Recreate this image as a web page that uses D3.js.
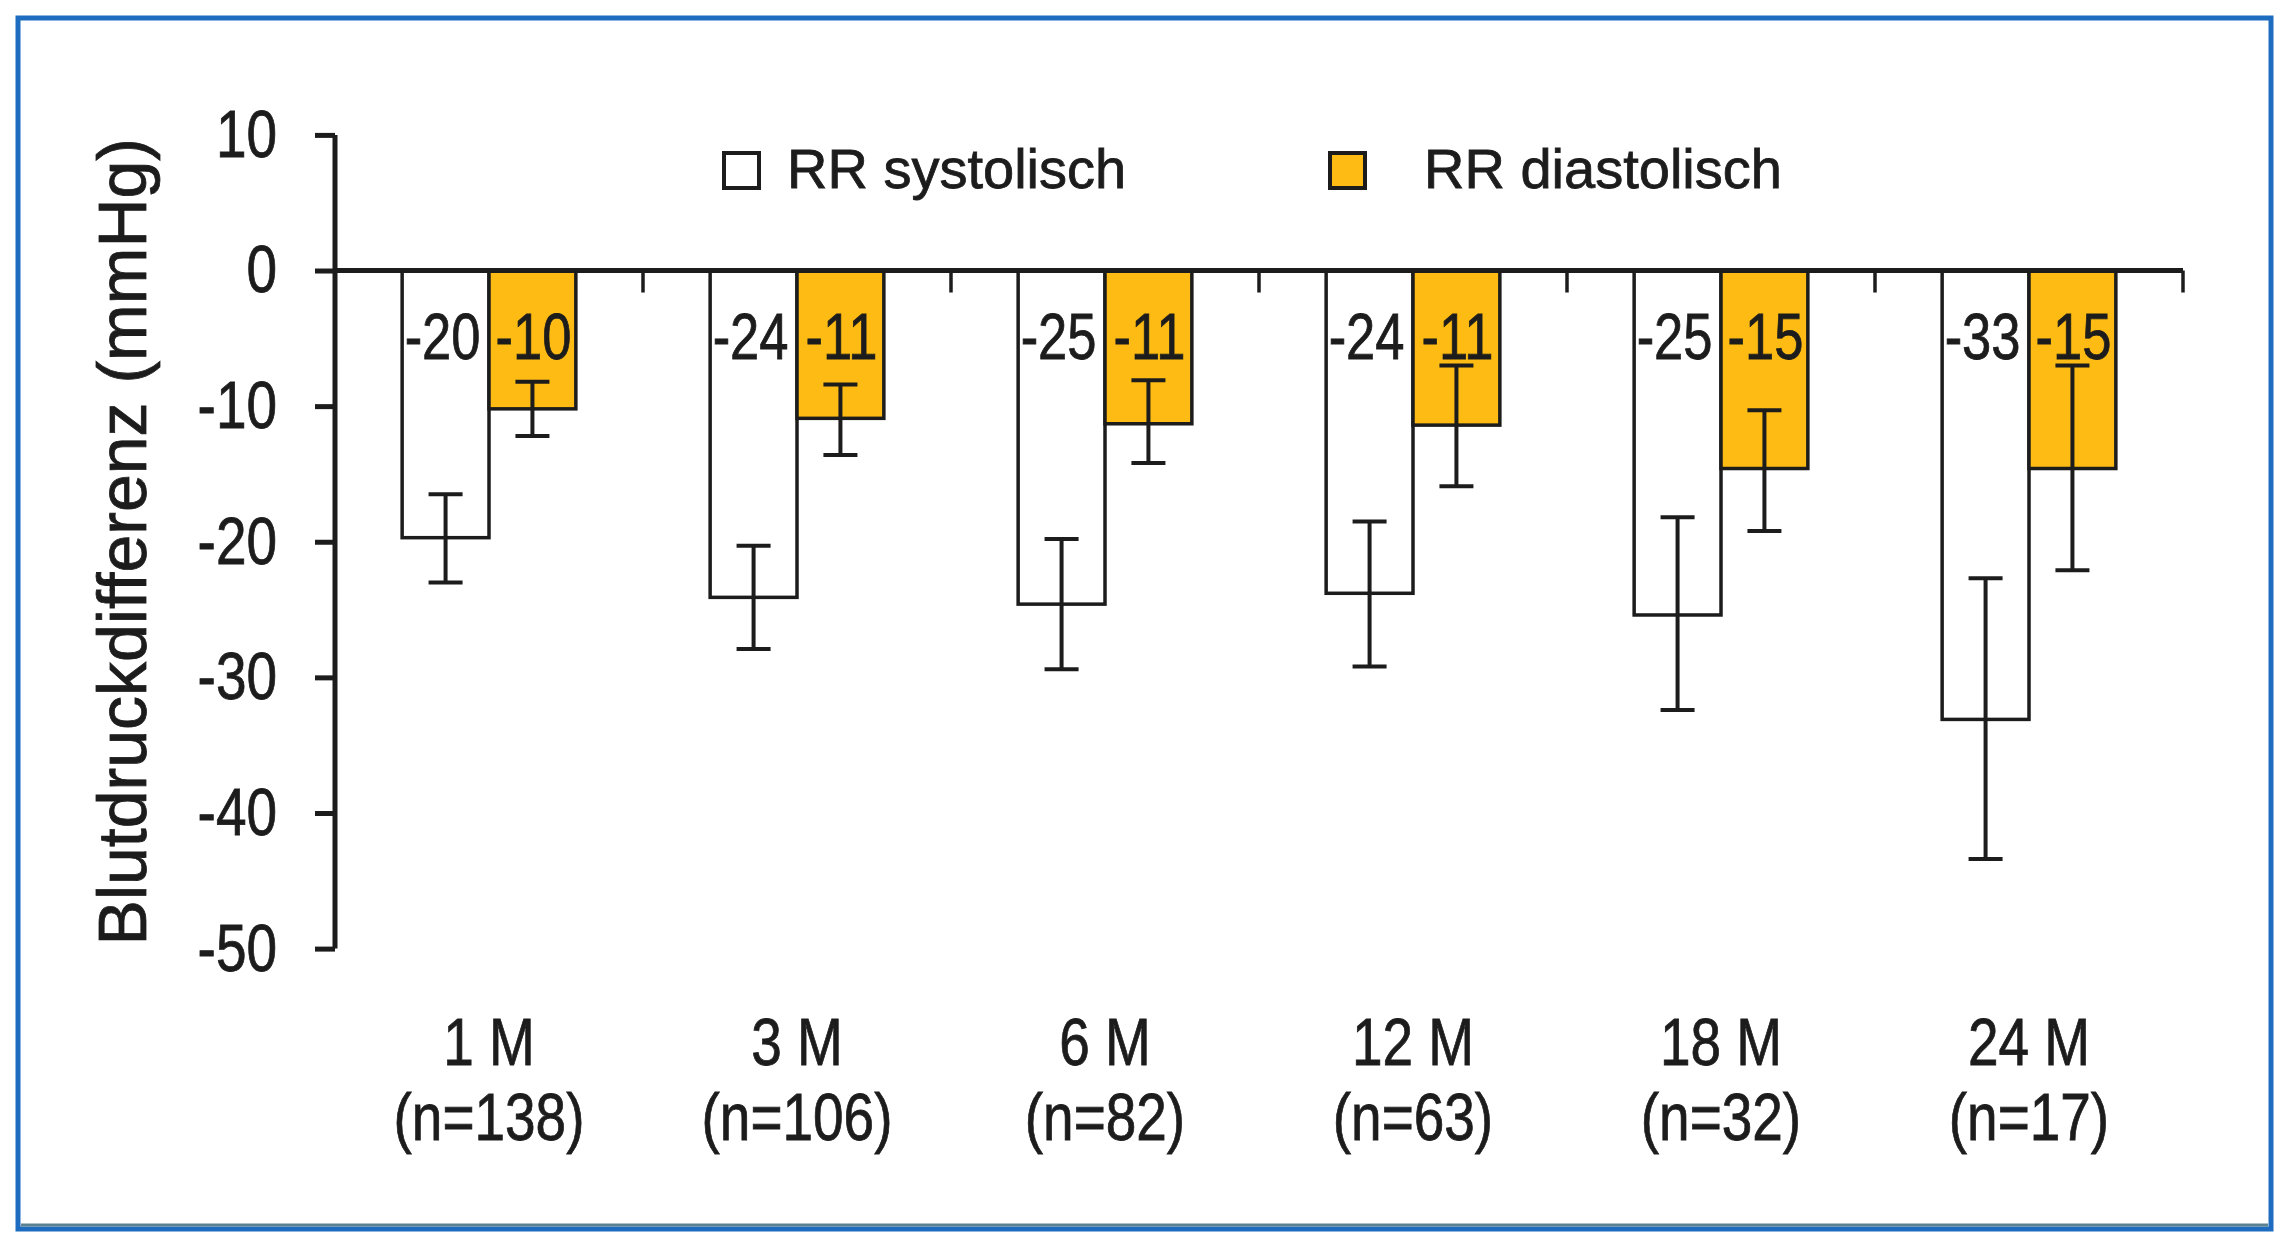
<!DOCTYPE html>
<html>
<head>
<meta charset="utf-8">
<script src="https://cdn.jsdelivr.net/npm/d3@7"></script>
<style>
  html, body { margin: 0; padding: 0; background: #ffffff; }
  svg { display: block; }
</style>
</head>
<body>
<svg id="chart" width="2292" height="1251"></svg>
<script>
// ---- data ----
const categories = ["1 M", "3 M", "6 M", "12 M", "18 M", "24 M"];
const nLabels = ["(n=138)", "(n=106)", "(n=82)", "(n=63)", "(n=32)", "(n=17)"];
const seriesNames = ["RR systolisch", "RR diastolisch"];

const systolic      = [-19.7, -24.1, -24.6, -23.8, -25.4, -33.1];
const systolicHigh  = [-16.5, -20.3, -19.8, -18.5, -18.2, -22.7];
const systolicLow   = [-23.0, -27.9, -29.4, -29.2, -32.4, -43.4];
const systolicLabel = ["-20", "-24", "-25", "-24", "-25", "-33"];

const diastolic      = [-10.2, -10.9, -11.3, -11.4, -14.6, -14.6];
const diastolicHigh  = [-8.2, -8.4, -8.1, -7.0, -10.3, -7.0];
const diastolicLow   = [-12.2, -13.6, -14.2, -15.9, -19.2, -22.1];
const diastolicLabel = ["-10", "-11", "-11", "-11", "-15", "-15"];

const yTicks = [10, 0, -10, -20, -30, -40, -50];
const yTitle = "Blutdruckdifferenz (mmHg)";

// ---- setup ----
const svg = d3.select("#chart");
const W = 2292, H = 1251;
const orange = "#FDBB13";
const ink = "#1c1c1c";

// narrow font detection
function fontAvailable(name) {
  const c = document.createElement("canvas").getContext("2d");
  c.font = "67px serif";
  const a = c.measureText("0123456789 n=()M").width;
  c.font = "67px '" + name + "', serif";
  const b = c.measureText("0123456789 n=()M").width;
  return Math.abs(a - b) > 0.5;
}
const hasNarrow = fontAvailable("Liberation Sans Narrow");
const narrowFont = hasNarrow ? "'Liberation Sans Narrow', 'Arial Narrow', sans-serif" : "'Liberation Sans', Arial, sans-serif";
const regularFont = "'Liberation Sans', Arial, Helvetica, sans-serif";
function narrowize(sel) {
  if (hasNarrow) return;
  sel.each(function () {
    const len = this.getComputedTextLength();
    d3.select(this).attr("textLength", len * 0.82).attr("lengthAdjust", "spacingAndGlyphs");
  });
}
function heavy(sel, w) {
  sel.attr("stroke", ink).attr("stroke-width", w).attr("paint-order", "stroke");
}

svg.append("rect").attr("width", W).attr("height", H).attr("fill", "#ffffff");

// frame
svg.append("rect")
  .attr("x", 18).attr("y", 18).attr("width", 2253).attr("height", 1211)
  .attr("fill", "none").attr("stroke", "#1e6cc0").attr("stroke-width", 5);
svg.append("line")
  .attr("x1", 21).attr("x2", 2268).attr("y1", 1225).attr("y2", 1225)
  .attr("stroke", "#5a8190").attr("stroke-width", 3);

// scales
const plotLeft = 335, plotRight = 2183;
const y = d3.scaleLinear().domain([-50, 10]).range([948.6, 134.9]);
const x = d3.scaleBand().domain(categories).range([plotLeft, plotRight]).padding(0);
const bw = x.bandwidth();
const barW = bw * 0.282;
const xs = d3.scaleBand().domain(["sys", "dia"])
  .range([bw / 2 - barW, bw / 2 + barW]).padding(0);

const rows = categories.map((c, i) => ({
  cat: c, n: nLabels[i],
  bars: [
    { key: "sys", v: systolic[i], hi: systolicHigh[i], lo: systolicLow[i], label: systolicLabel[i], fill: "#ffffff", dx: -3 },
    { key: "dia", v: diastolic[i], hi: diastolicHigh[i], lo: diastolicLow[i], label: diastolicLabel[i], fill: orange, dx: 1 }
  ]
}));

const g = svg.append("g");

// bars
const groups = g.selectAll("g.grp").data(rows).join("g")
  .attr("class", "grp")
  .attr("transform", d => `translate(${x(d.cat)},0)`);

groups.selectAll("rect.bar").data(d => d.bars).join("rect")
  .attr("class", "bar")
  .attr("x", d => xs(d.key))
  .attr("y", d => y(0))
  .attr("width", xs.bandwidth())
  .attr("height", d => y(d.v) - y(0))
  .attr("fill", d => d.fill)
  .attr("stroke", ink)
  .attr("stroke-width", 3.5);

// error bars
const capW = 34;
const eb = groups.selectAll("g.err").data(d => d.bars).join("g").attr("class", "err")
  .attr("stroke", ink).attr("stroke-width", 4);
eb.append("line")
  .attr("x1", d => xs(d.key) + xs.bandwidth() / 2)
  .attr("x2", d => xs(d.key) + xs.bandwidth() / 2)
  .attr("y1", d => y(d.hi)).attr("y2", d => y(d.lo));
eb.append("line")
  .attr("x1", d => xs(d.key) + xs.bandwidth() / 2 - capW / 2)
  .attr("x2", d => xs(d.key) + xs.bandwidth() / 2 + capW / 2)
  .attr("y1", d => y(d.hi)).attr("y2", d => y(d.hi));
eb.append("line")
  .attr("x1", d => xs(d.key) + xs.bandwidth() / 2 - capW / 2)
  .attr("x2", d => xs(d.key) + xs.bandwidth() / 2 + capW / 2)
  .attr("y1", d => y(d.lo)).attr("y2", d => y(d.lo));

// value labels
const vl = groups.selectAll("text.val").data(d => d.bars).join("text")
  .attr("class", "val")
  .attr("x", d => xs(d.key) + xs.bandwidth() / 2 + d.dx)
  .attr("y", y(-4.85))
  .attr("dy", "0.36em")
  .attr("text-anchor", "middle")
  .attr("font-family", narrowFont)
  .attr("font-size", 64)
  .attr("fill", ink)
  .text(d => d.label);
heavy(vl, 0.8);
narrowize(vl);

// x axis (zero line) with category separators
const xAxis = d3.axisBottom(x).tickSize(0).tickFormat("");
const xg = svg.append("g").attr("transform", `translate(0,${y(0)})`).call(xAxis);
xg.select(".domain").attr("stroke", ink).attr("stroke-width", 5)
  .attr("d", `M${plotLeft},0H${plotRight}`);
xg.selectAll(".tick").remove();
xg.selectAll("line.sep").data(categories).join("line")
  .attr("class", "sep")
  .attr("x1", d => x(d) + bw).attr("x2", d => x(d) + bw)
  .attr("y1", 0).attr("y2", 22)
  .attr("stroke", ink).attr("stroke-width", 3.5);

// category labels
const cl = svg.append("g").selectAll("g").data(rows).join("g");
const cl1 = cl.append("text")
  .attr("x", d => x(d.cat) + bw / 2).attr("y", 1065)
  .attr("text-anchor", "middle").attr("font-family", narrowFont)
  .attr("font-size", 67).attr("fill", ink).text(d => d.cat);
const cl2 = cl.append("text")
  .attr("x", d => x(d.cat) + bw / 2).attr("y", 1140)
  .attr("text-anchor", "middle").attr("font-family", narrowFont)
  .attr("font-size", 67).attr("fill", ink).text(d => d.n);
heavy(cl1, 0.8); heavy(cl2, 0.8);
narrowize(cl1); narrowize(cl2);

// y axis
const yAxis = d3.axisLeft(y).tickValues(yTicks).tickSize(20).tickPadding(38)
  .tickFormat(d3.format("d"));
const yg = svg.append("g").attr("transform", `translate(${plotLeft},0)`).call(yAxis);
yg.select(".domain").attr("stroke", ink).attr("stroke-width", 5)
  .attr("d", `M0,${y(10)}V${y(-50)}`);
yg.selectAll(".tick line").attr("stroke", ink).attr("stroke-width", 5);
const yl = yg.selectAll(".tick text")
  .attr("font-family", narrowFont).attr("font-size", 67).attr("fill", ink)
  .text(d => String(d).replace("\u2212", "-"));
heavy(yl, 0.8);
narrowize(yl);

// y title
const yt = svg.append("text")
  .attr("transform", `translate(146,${(y(10) + y(-50)) / 2}) rotate(-90)`)
  .attr("text-anchor", "middle")
  .attr("font-family", regularFont)
  .attr("font-size", 68)
  .attr("fill", ink)
  .text(yTitle);
heavy(yt, 0.8);

// legend
const legendItems = [
  { name: seriesNames[0], fill: "#ffffff", bx: 724, tx: 787 },
  { name: seriesNames[1], fill: orange, bx: 1330, tx: 1424 }
];
const lg = svg.append("g").selectAll("g").data(legendItems).join("g");
lg.append("rect")
  .attr("x", d => d.bx).attr("y", 153).attr("width", 35).attr("height", 35)
  .attr("fill", d => d.fill).attr("stroke", ink).attr("stroke-width", 4);
const lt = lg.append("text")
  .attr("x", d => d.tx).attr("y", 188)
  .attr("font-family", regularFont).attr("font-size", 56).attr("fill", ink)
  .text(d => d.name);
heavy(lt, 0.8);
</script>
</body>
</html>
